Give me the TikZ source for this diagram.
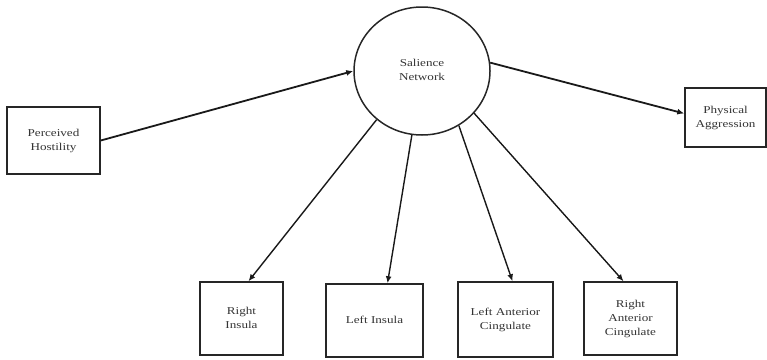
\documentclass[tikz,border=0pt]{standalone}
\usepackage{fontspec}
\setmainfont{Liberation Serif}
\usetikzlibrary{arrows.meta,calc,shapes.geometric}
\newcommand{\sxt}[1]{\scalebox{1.25}[1]{\begin{tabular}{@{}c@{}}#1\end{tabular}}}
\begin{document}
\begin{tikzpicture}[x=1pt,y=-1pt,
  box/.style={draw=black!85,line width=1.5pt,inner sep=0pt,align=center,
    font=\fontsize{10.5}{14}\selectfont,text=black!80},
  arr/.style={draw=black!90,line width=1.8pt,-{Latex[length=7pt,width=6pt]}},
  arrb/.style={draw=black!90,line width=1.4pt,-{Latex[length=7pt,width=6pt]}}]
\useasboundingbox (0,0) rectangle (767,359);
\node[box,ellipse,minimum width=136pt,minimum height=128pt] (S) at (422,71) {\sxt{Salience\\Network}};
\node[box,minimum width=93pt,minimum height=67pt] (PH) at (53.5,140.5) {\sxt{Perceived\\Hostility}};
\node[box,minimum width=81pt,minimum height=59pt] (PA) at (725.5,117.5) {\sxt{Physical\\Aggression}};
\node[box,minimum width=83pt,minimum height=73pt] (RI) at (241.5,318.5) {\sxt{Right\\Insula}};
\node[box,minimum width=97pt,minimum height=73pt] (LI) at (374.5,320.5) {\sxt{Left Insula}};
\node[box,minimum width=95pt,minimum height=75pt] (LAC) at (505.5,319.5) {\sxt{Left Anterior\\Cingulate}};
\node[box,minimum width=93pt,minimum height=73pt] (RAC) at (630.5,318.5) {\sxt{Right\\Anterior\\Cingulate}};
\draw[arr] (PH.east) -- (S.west);
\draw[arr] (S.7) -- ($(PA.west)+(0,-4)$);
\draw[arrb] (S.227) -- ($(RI.north)+(7,0)$);
\draw[arrb] (S.261) -- ($(LI.north)+(13,0)$);
\draw[arrb] (S.304) -- ($(LAC.north)+(7,0)$);
\draw[arrb] (S.321) -- ($(RAC.north)+(-7,0)$);
\end{tikzpicture}
\end{document}
